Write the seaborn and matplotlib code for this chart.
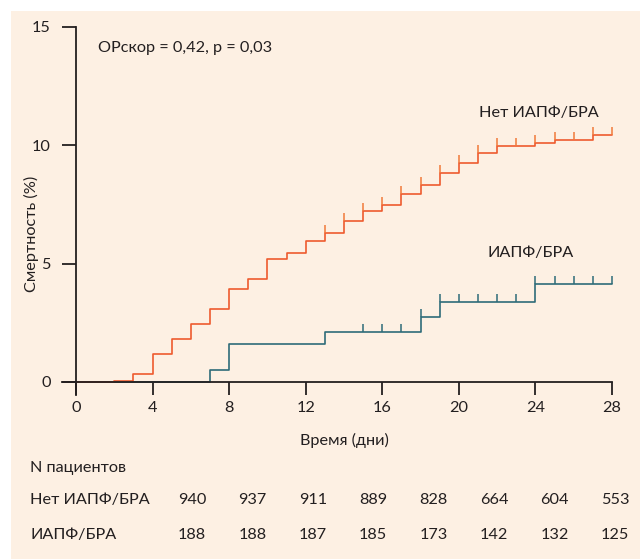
import seaborn as sns
import numpy as np
import matplotlib.pyplot as plt
import pandas as pd
from matplotlib.patches import Rectangle

# data
days = list(range(0, 29))
no_acei = [0, 0, 0.05, 0.33, 1.17, 1.82, 2.44, 3.07, 3.93, 4.35, 5.21, 5.44, 5.94, 6.28,
           6.80, 7.24, 7.46, 7.93, 8.31, 8.84, 9.24, 9.66, 9.96, 9.96, 10.10, 10.24,
           10.24, 10.44, 10.44]
acei = [0, 0, 0, 0, 0, 0, 0, 0.51, 1.59, 1.59, 1.59, 1.59, 1.59, 2.11, 2.11, 2.11,
        2.11, 2.11, 2.76, 3.39, 3.39, 3.39, 3.39, 3.39, 4.13, 4.13, 4.13, 4.13, 4.13]
cens_no_acei = list(range(13, 29))
cens_acei = list(range(15, 29))

x_ticks = [0, 4, 8, 12, 16, 20, 24, 28]
y_ticks = [0, 5, 10, 15]
n_no_acei = [940, 937, 911, 889, 828, 664, 604, 553]
n_acei = [188, 188, 187, 185, 173, 142, 132, 125]

lbl_no = "Нет ИАПФ/БРА"
lbl_yes = "ИАПФ/БРА"

df = pd.DataFrame({'day': days, lbl_no: no_acei, lbl_yes: acei})

#%%
sns.set_style("white")
plt.rcParams['font.family'] = ['Lato', 'DejaVu Sans']
plt.rcParams['font.size'] = 11.7

red = "#EE5A2E"
blue = "#2E6B79"
dark = "#231F20"
peach = "#FDF0E3"

fig = plt.figure(figsize=(6.4, 5.59), dpi=100)
fig.patch.set_facecolor("white")
fig.patches.append(Rectangle((11 / 640, 0), 1, 1 - 11 / 559, transform=fig.transFigure,
                             facecolor=peach, edgecolor="none", zorder=-5))

ax = fig.add_axes([62 / 640, 1 - 395 / 559, 552 / 640, 368 / 559])
ax.set_facecolor("none")
ax.set_zorder(2)

sns.lineplot(data=df, x='day', y=lbl_yes, drawstyle='steps-post', color=blue, lw=1.2, ax=ax)
sns.lineplot(data=df, x='day', y=lbl_no, drawstyle='steps-post', color=red, lw=1.2, ax=ax)

# censor ticks
ax.plot(cens_no_acei, df.set_index('day').loc[cens_no_acei, lbl_no], ls='none',
        marker=2, ms=5.5, mew=1.1, color="#F07A3A")
ax.plot(cens_acei, df.set_index('day').loc[cens_acei, lbl_yes], ls='none',
        marker=2, ms=5.5, mew=1.1, color=blue)

ax.set_xlim(-0.73, 28.1)
ax.set_ylim(-0.55, 15)
ax.set_xticks(x_ticks)
ax.set_yticks(y_ticks)

for s in ['top', 'right']:
    ax.spines[s].set_visible(False)
ax.spines['bottom'].set_position(('data', 0))
ax.spines['left'].set_position(('data', 0))
ax.spines['bottom'].set_bounds(-0.73, 28)
ax.spines['left'].set_bounds(-0.55, 15)
for s in ['bottom', 'left']:
    ax.spines[s].set_color(dark)
    ax.spines[s].set_linewidth(1.3)

ax.tick_params(axis='x', direction='out', length=9.4, width=1.3, color=dark,
               pad=4, labelcolor=dark, bottom=True)
ax.tick_params(axis='y', direction='out', length=10, width=1.3, color=dark,
               pad=8, labelcolor=dark, left=True)
ax.set_xlabel("")
ax.set_ylabel("")

ax.text(1.15, 14.1, "ОРскор = 0,42, p = 0,03", ha='left', va='center', color=dark)
ax.text(24.17, 11.36, lbl_no, ha='center', va='center', color=dark)
ax.text(23.76, 5.44, lbl_yes, ha='center', va='center', color=dark)

fig.text(31 / 640, 1 - 234 / 559, "Смертность (%)", rotation=90, ha='center', va='center',
         color=dark)
fig.text(344 / 640, 1 - 440 / 559, "Время (дни)", ha='center', va='center', color=dark)

# numbers at risk table
fig.text(30 / 640, 1 - 468 / 559, "N пациентов", ha='left', va='center', color=dark)
fig.text(30 / 640, 1 - 500 / 559, lbl_no, ha='left', va='center', color=dark)
fig.text(30 / 640, 1 - 535 / 559, lbl_yes, ha='left', va='center', color=dark)
cols = np.linspace(192, 615, len(n_no_acei)) / 640
for xc, a, b in zip(cols, n_no_acei, n_acei):
    fig.text(xc, 1 - 500 / 559, str(a), ha='center', va='center', color=dark)
    fig.text(xc, 1 - 535 / 559, str(b), ha='center', va='center', color=dark)

fig.savefig("out.png", dpi=100)
